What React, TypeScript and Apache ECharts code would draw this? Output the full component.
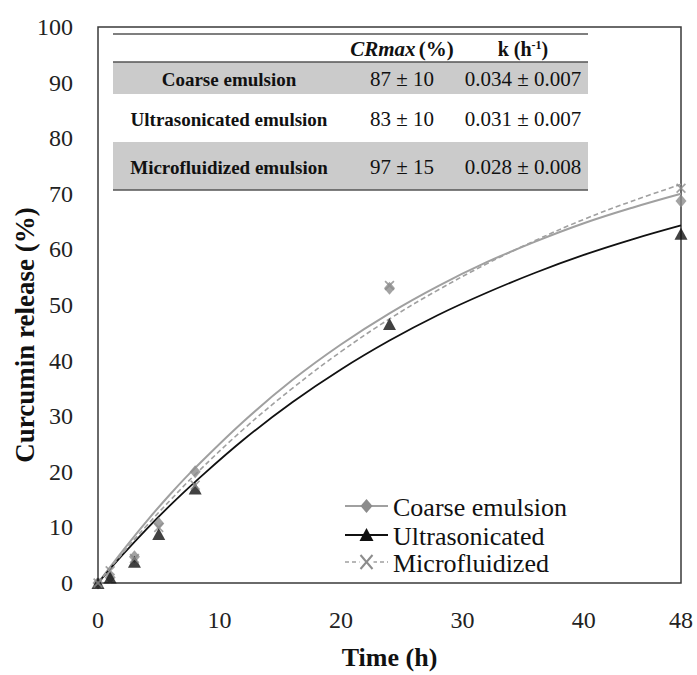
import React, { useEffect, useRef } from "react";
import * as echarts from "echarts";

// Sampling times (h) and measured curcumin release (%)
const sampleTimes = [0, 1, 3, 5, 8, 24, 48];
const coarseRelease = [0, 1, 4.7, 10.7, 20, 53, 68.7];
const ultraRelease = [0, 1, 3.8, 8.8, 17, 46.6, 62.8];
const microRelease = [0, 2.2, 4.4, 10, 17.6, 53.5, 71];

// First-order fitted release curves
const fitTimes = [0, 2, 4, 6, 8, 12, 16, 20, 24, 28, 32, 36, 40, 44, 48];
const coarseFit = [0, 5.7, 11.1, 16.1, 20.7, 29.1, 36.5, 42.9, 48.5, 53.4, 57.7, 61.4, 64.7, 67.5, 70.0];
const ultraFit = [0, 5.0, 9.7, 14.1, 18.2, 25.8, 32.5, 38.4, 43.6, 48.2, 52.2, 55.8, 59.0, 61.8, 64.3];
const microFit = [0, 5.3, 10.3, 15.0, 19.5, 27.7, 35.0, 41.6, 47.5, 52.7, 57.4, 61.6, 65.4, 68.7, 71.7];

// Axis ticks
const xTicks = [0, 10, 20, 30, 40, 48];

// Fitted parameters table
const tableRows = ["Coarse emulsion", "Ultrasonicated emulsion", "Microfluidized emulsion"];
const crMaxValues = ["87 ± 10", "83 ± 10", "97 ± 15"];
const kValues = ["0.034 ± 0.007", "0.031 ± 0.007", "0.028 ± 0.008"];

const legendNames = ["Coarse emulsion", "Ultrasonicated", "Microfluidized"];

const FONT = "'Liberation Serif', 'Times New Roman', serif";
const GRAY = "#8c8c8c";
const LINE_GRAY = "#a0a0a0";
const BLACK = "#111111";
const X_PATH =
  "path://M0,1.2L1.2,0L5,3.8L8.8,0L10,1.2L6.2,5L10,8.8L8.8,10L5,6.2L1.2,10L0,8.8L3.8,5Z";

const pairs = (xs: number[], ys: number[]) => xs.map((x, i) => [x, ys[i]]);

function buildTable(): any[] {
  const left = 113;
  const right = 588;
  const rowBands = [
    [62, 94],
    [94, 142],
    [142, 190],
  ];
  const colLabel = 229;
  const colCr = 402;
  const colK = 523;
  const els: any[] = [];
  rowBands.forEach((b, i) => {
    if (i !== 1) {
      els.push({
        type: "rect",
        shape: { x: left, y: b[0], width: right - left, height: b[1] - b[0] },
        style: { fill: "#cbcbcb" },
      });
    }
  });
  [34, 62, 190].forEach((y) =>
    els.push({
      type: "line",
      shape: { x1: left, y1: y, x2: right, y2: y },
      style: { stroke: "#555555", lineWidth: 1.5 },
    })
  );
  els.push({
    type: "text",
    x: colCr,
    y: 49,
    style: {
      text: "{i|CRmax} {b|(%)}",
      align: "center",
      verticalAlign: "middle",
      rich: {
        i: { fontFamily: FONT, fontSize: 21, fontWeight: "bold", fontStyle: "italic", fill: BLACK },
        b: { fontFamily: FONT, fontSize: 21, fontWeight: "bold", fill: BLACK },
      },
    },
  });
  els.push({
    type: "text",
    x: colK,
    y: 49,
    style: {
      text: "{b|k (h}{s|-1}{b|)}",
      align: "center",
      verticalAlign: "middle",
      rich: {
        b: { fontFamily: FONT, fontSize: 20, fontWeight: "bold", fill: BLACK },
        s: { fontFamily: FONT, fontSize: 12, fontWeight: "bold", fill: BLACK, verticalAlign: "top", padding: [0, 0, 8, 0] },
      },
    },
  });
  tableRows.forEach((name, i) => {
    const cy = (rowBands[i][0] + rowBands[i][1]) / 2 + 1;
    els.push({
      type: "text",
      x: colLabel,
      y: cy,
      style: { text: name, align: "center", verticalAlign: "middle", fontFamily: FONT, fontSize: 19, fontWeight: "bold", fill: BLACK },
    });
    els.push({
      type: "text",
      x: colCr,
      y: cy,
      style: { text: crMaxValues[i], align: "center", verticalAlign: "middle", fontFamily: FONT, fontSize: 21, fill: BLACK },
    });
    els.push({
      type: "text",
      x: colK,
      y: cy,
      style: { text: kValues[i], align: "center", verticalAlign: "middle", fontFamily: FONT, fontSize: 21, fill: BLACK },
    });
  });
  return els;
}

function buildLegend(): any[] {
  const x1 = 345;
  const x2 = 388;
  const mx = (x1 + x2) / 2;
  const rows = [506, 535, 562];
  const els: any[] = [];
  // Coarse emulsion: gray line with diamond
  els.push({ type: "line", shape: { x1, y1: rows[0], x2, y2: rows[0] }, style: { stroke: LINE_GRAY, lineWidth: 2 } });
  els.push({
    type: "polygon",
    shape: { points: [[mx, rows[0] - 7], [mx + 6, rows[0]], [mx, rows[0] + 7], [mx - 6, rows[0]]] },
    style: { fill: GRAY },
  });
  // Ultrasonicated: black line with triangle
  els.push({ type: "line", shape: { x1, y1: rows[1], x2, y2: rows[1] }, style: { stroke: BLACK, lineWidth: 2 } });
  els.push({
    type: "polygon",
    shape: { points: [[mx, rows[1] - 7], [mx + 7, rows[1] + 6], [mx - 7, rows[1] + 6]] },
    style: { fill: BLACK },
  });
  // Microfluidized: dashed gray line with cross
  els.push({
    type: "line",
    shape: { x1, y1: rows[2], x2, y2: rows[2] },
    style: { stroke: LINE_GRAY, lineWidth: 1.5, lineDash: [4, 3] },
  });
  els.push({ type: "rect", shape: { x: mx - 7, y: rows[2] - 8, width: 14, height: 16 }, style: { fill: "#fff" } });
  els.push({ type: "line", shape: { x1: mx - 6, y1: rows[2] - 7, x2: mx + 6, y2: rows[2] + 7 }, style: { stroke: GRAY, lineWidth: 2 } });
  els.push({ type: "line", shape: { x1: mx + 6, y1: rows[2] - 7, x2: mx - 6, y2: rows[2] + 7 }, style: { stroke: GRAY, lineWidth: 2 } });
  legendNames.forEach((n, i) =>
    els.push({
      type: "text",
      x: 393,
      y: rows[i] + 1,
      style: { text: n, align: "left", verticalAlign: "middle", fontFamily: FONT, fontSize: 26, fill: BLACK },
    })
  );
  return els;
}

// Vertical axis title, sitting slightly below the plot's midline
const yTitle = {
  type: "text",
  x: 25,
  y: 335,
  rotation: Math.PI / 2,
  style: {
    text: "Curcumin release (%)",
    align: "center",
    verticalAlign: "middle",
    fontFamily: FONT,
    fontSize: 27,
    fontWeight: "bold",
    fill: BLACK,
  },
};

export default function App() {
  const ref = useRef<HTMLDivElement>(null);

  useEffect(() => {
    if (!ref.current) return;
    const chart = echarts.init(ref.current, null, { renderer: "svg" });
    chart.setOption({
      animation: false,
      backgroundColor: "#ffffff",
      grid: {
        left: 98,
        right: 16,
        top: 27,
        bottom: 78,
        show: true,
        borderColor: "#3a3a3a",
        borderWidth: 1.5,
        backgroundColor: "transparent",
      },
      xAxis: {
        type: "value",
        min: 0,
        max: 48,
        interval: 10,
        name: "Time (h)",
        nameLocation: "middle",
        nameGap: 61,
        nameTextStyle: { fontFamily: FONT, fontSize: 26, fontWeight: "bold", color: BLACK },
        axisLine: { show: false },
        axisTick: { show: false },
        splitLine: { show: false },
        axisLabel: {
          customValues: xTicks,
          margin: 25,
          fontFamily: FONT,
          fontSize: 24,
          color: "#222",
        },
      },
      yAxis: {
        type: "value",
        min: 0,
        max: 100,
        interval: 10,
        axisLine: { show: false },
        axisTick: { show: false },
        splitLine: { show: false },
        axisLabel: { margin: 25, fontFamily: FONT, fontSize: 24, color: "#222" },
      },
      series: [
        {
          name: "Coarse emulsion fit",
          type: "line",
          data: pairs(fitTimes, coarseFit),
          smooth: 0.4,
          showSymbol: false,
          lineStyle: { color: LINE_GRAY, width: 2 },
          z: 2,
        },
        {
          name: "Ultrasonicated fit",
          type: "line",
          data: pairs(fitTimes, ultraFit),
          smooth: 0.4,
          showSymbol: false,
          lineStyle: { color: BLACK, width: 1.8 },
          z: 2,
        },
        {
          name: "Microfluidized fit",
          type: "line",
          data: pairs(fitTimes, microFit),
          smooth: 0.4,
          showSymbol: false,
          lineStyle: { color: LINE_GRAY, width: 1.6, type: [5, 3] },
          z: 2,
        },
        {
          name: "Coarse emulsion",
          type: "scatter",
          data: pairs(sampleTimes, coarseRelease),
          symbol: "diamond",
          symbolSize: [11, 13],
          itemStyle: { color: GRAY },
          clip: false,
          z: 3,
        },
        {
          name: "Ultrasonicated",
          type: "scatter",
          data: pairs(sampleTimes, ultraRelease),
          symbol: "triangle",
          symbolSize: [13, 12],
          itemStyle: { color: BLACK },
          clip: false,
          z: 3,
        },
        {
          name: "Microfluidized",
          type: "scatter",
          data: pairs(sampleTimes, microRelease),
          symbol: X_PATH,
          symbolSize: 10,
          itemStyle: { color: GRAY },
          clip: false,
          z: 4,
        },
      ],
      graphic: [...buildTable(), ...buildLegend(), yTitle],
    });
    return () => chart.dispose();
  }, []);

  return (
    <div
      ref={ref}
      style={{ position: "absolute", left: 0, top: 0, width: 697, height: 675 }}
    />
  );
}
